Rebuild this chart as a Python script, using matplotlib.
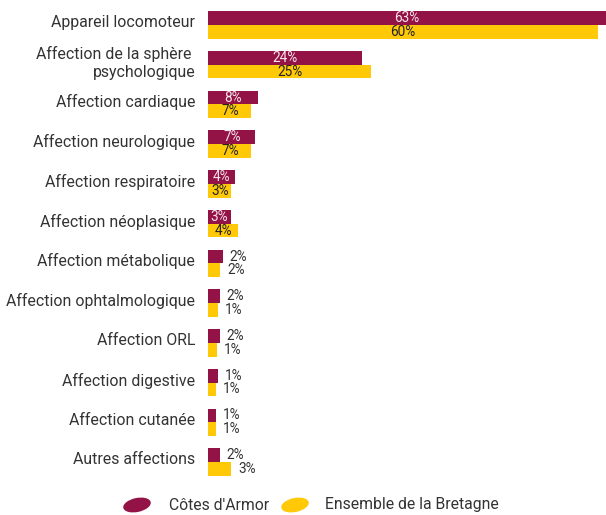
import matplotlib
matplotlib.use("Agg")
import matplotlib.pyplot as plt
from matplotlib.patches import Ellipse

categories = [
    "Appareil locomoteur",
    "Affection de la sphère \npsychologique",
    "Affection cardiaque",
    "Affection neurologique",
    "Affection respiratoire",
    "Affection néoplasique",
    "Affection métabolique",
    "Affection ophtalmologique",
    "Affection ORL",
    "Affection digestive",
    "Affection cutanée",
    "Autres affections",
]
cotes_armor = [63.0, 23.7, 7.6, 7.2, 4.1, 3.4, 2.2, 1.7, 1.7, 1.4, 1.2, 1.7]
bretagne = [60.0, 25.1, 6.6, 6.6, 3.5, 4.5, 1.8, 1.4, 1.3, 1.2, 1.2, 3.5]
cotes_labels = ["63%", "24%", "8%", "7%", "4%", "3%", "2%", "2%", "2%", "1%", "1%", "2%"]
bret_labels = ["60%", "25%", "7%", "7%", "3%", "4%", "2%", "1%", "1%", "1%", "1%", "3%"]
series_names = ["Côtes d'Armor", "Ensemble de la Bretagne"]

MAROON = "#941346"
YELLOW = "#FFC907"
TEXT = "#333333"
FONT = "Roboto"
plt.rcParams["font.family"] = [FONT, "DejaVu Sans"]

W, H = 606, 515
fig = plt.figure(figsize=(W / 100, H / 100), dpi=100)

x0_px = 208.5
px_per_unit = 389.5 / 60.0
xmax = 64.0
top_px, bot_px = 5.15, 481.9
ax = fig.add_axes([x0_px / W, (H - bot_px) / H, xmax * px_per_unit / W, (bot_px - top_px) / H])

n = len(categories)
pos = list(range(n))
bh = 0.345
ax.barh([p - bh / 2 for p in pos], cotes_armor, height=bh, color=MAROON, linewidth=0)
ax.barh([p + bh / 2 for p in pos], bretagne, height=bh, color=YELLOW, linewidth=0)

ax.set_xlim(0, xmax)
ax.set_ylim(n - 0.5, -0.5)
ax.set_yticks(pos)
ax.set_yticklabels([])
ax.tick_params(axis="y", length=0)
ax.set_xticks([])
for s in ax.spines.values():
    s.set_visible(False)

for i, cat in enumerate(categories):
    ax.annotate(cat, (0, i), xycoords=("axes fraction", "data"),
                xytext=(-9.5, 1.5), textcoords="offset points",
                ha="right", va="center", multialignment="right",
                fontsize=11.4, color=TEXT, linespacing=1.25)

visible_max = (W - x0_px) / px_per_unit
n_inside = 6
for i in range(n):
    for vals, labs, off, col_in in ((cotes_armor, cotes_labels, -bh / 2, "#f6e3ea"),
                                     (bretagne, bret_labels, bh / 2, "#222222")):
        v = vals[i]
        y = i + off
        if i < n_inside:
            ax.text(min(v, visible_max) / 2, y, labs[i], ha="center", va="center",
                    fontsize=9.8, color=col_in)
        else:
            ax.annotate(labs[i], (v, y), xytext=(5, 0), textcoords="offset points",
                        ha="left", va="center", fontsize=9.8, color=TEXT)

# legend
lg = fig.add_axes([0, 0, 1, 1], zorder=-1)
lg.set_xlim(0, W)
lg.set_ylim(0, H)
lg.axis("off")
ly = H - 505
lg.add_patch(Ellipse((137, ly), 28, 14, angle=12, color=MAROON, lw=0))
lg.text(169, ly, series_names[0], ha="left", va="center", fontsize=11.3, color=TEXT)
lg.add_patch(Ellipse((295, ly), 28, 14, angle=12, color=YELLOW, lw=0))
lg.text(325, ly, series_names[1], ha="left", va="center", fontsize=11.3, color=TEXT)

fig.savefig("out.png", dpi=100)
